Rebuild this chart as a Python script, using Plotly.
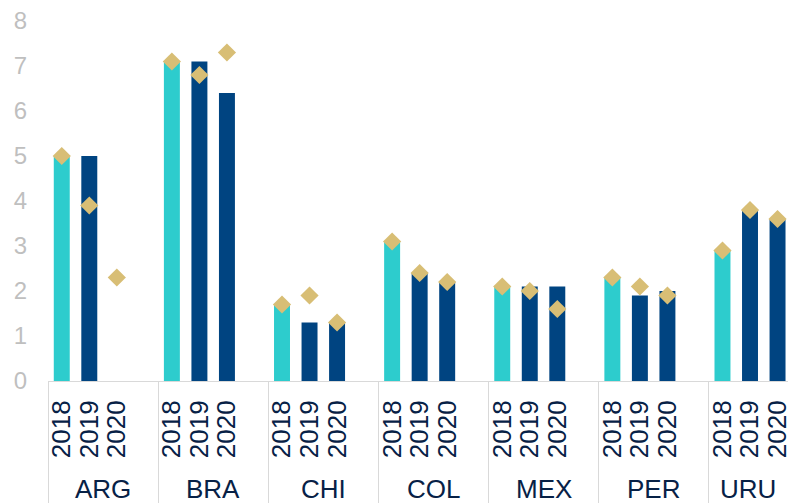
import plotly.graph_objects as go

countries = ["ARG", "BRA", "CHI", "COL", "MEX", "PER", "URU"]
years = ["2018", "2019", "2020"]

# bar values per year (None = no bar)
bars_2018 = [5.0, 7.1, 1.7, 3.1, 2.1, 2.3, 2.9]
bars_2019 = [5.0, 7.1, 1.3, 2.4, 2.1, 1.9, 3.8]
bars_2020 = [None, 6.4, 1.3, 2.2, 2.1, 2.0, 3.6]

# diamond markers per year
diam_2018 = [5.0, 7.1, 1.7, 3.1, 2.1, 2.3, 2.9]
diam_2019 = [3.9, 6.8, 1.9, 2.4, 2.0, 2.1, 3.8]
diam_2020 = [2.3, 7.3, 1.3, 2.2, 1.6, 1.9, 3.6]

AQUA = "#2DCCCD"
NAVY = "#004481"
SAND = "#D8BE75"
TEXT = "#072146"
FONT = "Liberation Sans, Arial, sans-serif"

# each country occupies 4 slots: three years plus one empty spacer slot
SLOTS = 4
X_RANGE = [-0.5, 26.38]
bar_series = [bars_2018, bars_2019, bars_2020]
diam_series = [diam_2018, diam_2019, diam_2020]
bar_colors = [AQUA, NAVY, NAVY]

fig = go.Figure()

for yi, (vals, col) in enumerate(zip(bar_series, bar_colors)):
    xs = [ci * SLOTS + yi for ci in range(len(countries))]
    fig.add_trace(go.Bar(
        x=xs, y=vals, width=0.58,
        marker=dict(color=col, line=dict(width=0)),
        showlegend=False, hoverinfo="skip",
    ))

dx, dy = [], []
for yi, vals in enumerate(diam_series):
    for ci, v in enumerate(vals):
        dx.append(ci * SLOTS + yi)
        dy.append(v)
fig.add_trace(go.Scatter(
    x=dx, y=dy, mode="markers",
    marker=dict(symbol="diamond", size=14, color=SAND, line=dict(width=0)),
    showlegend=False, hoverinfo="skip",
))

tickvals = [ci * SLOTS + yi for ci in range(len(countries)) for yi in range(len(years))]
ticktext = [years[yi] for ci in range(len(countries)) for yi in range(len(years))]
dividers = [ci * SLOTS - 0.5 for ci in range(len(countries))]

fig.update_layout(
    width=792, height=503,
    margin=dict(l=48, r=0, t=21, b=122),
    paper_bgcolor="white", plot_bgcolor="white",
    barmode="overlay",
    font=dict(family=FONT),
    xaxis=dict(
        range=X_RANGE,
        tickmode="array", tickvals=tickvals, ticktext=ticktext,
        tickangle=-90,
        tickfont=dict(size=26, color=TEXT, family=FONT),
        ticks="", ticklabelstandoff=8,
        ticklabeloverflow="allow",
        showline=True, linecolor="#D9D9D9", linewidth=1,
        showgrid=False, zeroline=False,
        minor=dict(tickmode="array", tickvals=dividers, ticks="outside",
                   ticklen=122, tickwidth=1, tickcolor="#D9D9D9", showgrid=False),
    ),
    yaxis=dict(
        range=[0, 8], dtick=1,
        tickfont=dict(size=24, color="#BFBFBF", family=FONT),
        ticklabelstandoff=20,
        showgrid=False, zeroline=False, showline=False, ticks="",
    ),
)

# country labels centred on the visible part of each group
for ci, name in enumerate(countries):
    g0 = max(ci * SLOTS - 0.5, X_RANGE[0])
    g1 = min((ci + 1) * SLOTS - 0.5, X_RANGE[1])
    fig.add_annotation(
        x=(g0 + g1) / 2, xref="x",
        y=-0.3, yref="paper",
        text=name, showarrow=False,
        font=dict(size=26, color=TEXT, family=FONT),
        xanchor="center", yanchor="middle",
    )

fig.write_html("out.html")
